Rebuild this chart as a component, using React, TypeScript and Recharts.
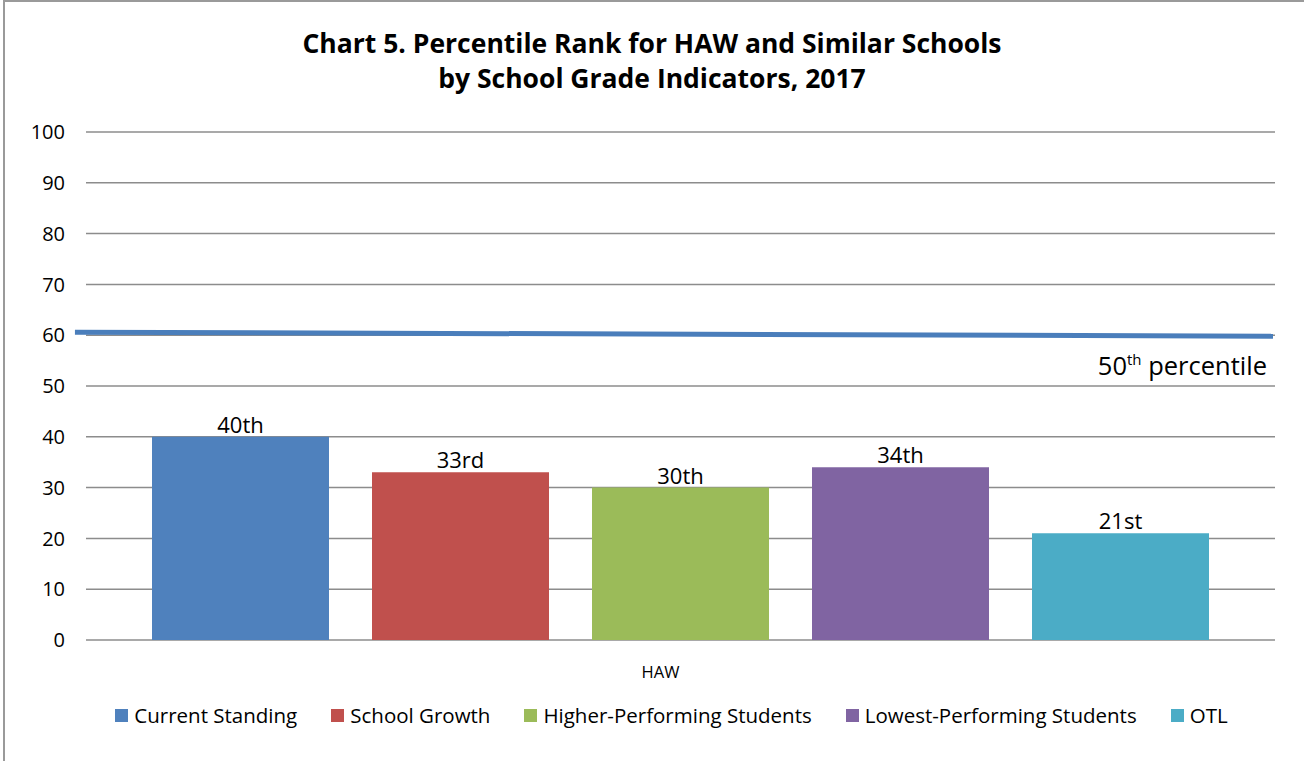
import React from 'react';
import {
  BarChart,
  Bar,
  XAxis,
  YAxis,
  CartesianGrid,
  Legend,
  LabelList,
  ReferenceLine
} from 'recharts';

// Series shown as bars for the single HAW category
const CATEGORIES = ['HAW'];
const SERIES_NAMES = [
  'Current Standing',
  'School Growth',
  'Higher-Performing Students',
  'Lowest-Performing Students',
  'OTL'
];
const SERIES_VALUES = [40, 33, 30, 34, 21];
const SERIES_LABELS = ['40th', '33rd', '30th', '34th', '21st'];
const SERIES_COLORS = ['#4F81BD', '#C0504D', '#9BBB59', '#8064A2', '#4BACC6'];
const Y_TICKS = [0, 10, 20, 30, 40, 50, 60, 70, 80, 90, 100];

// hand-drawn "50th percentile" marker: start and end points (x as share of plot width, y in chart units)
const MARKER_X = [-0.0093, 0.9983];
const MARKER_Y = [60.6, 59.8];

const FONT = '"Open Sans", sans-serif';

const data = CATEGORIES.map((name) => {
  const row: Record<string, any> = { name, pos: 0.5 };
  SERIES_NAMES.forEach((s, i) => {
    row[s] = SERIES_VALUES[i];
  });
  return row;
});

const MarkerLabel = (props: any) => {
  const { viewBox } = props;
  if (!viewBox) return null;
  const x = viewBox.x + viewBox.width - 6;
  const y = viewBox.y + viewBox.height + 39;
  return (
    <text x={x} y={y} textAnchor="end" fontSize={25.5} fill="#000" fontFamily={FONT}>
      50<tspan dy={-10} fontSize={15}>th</tspan>
      <tspan dy={10}> percentile</tspan>
    </text>
  );
};

const LegendContent = () => (
  <div
    style={{
      height: 50,
      display: 'flex',
      alignItems: 'center',
      justifyContent: 'center',
      gap: 34,
      paddingLeft: 62,
      fontFamily: FONT,
      fontSize: 20.5,
      color: '#000'
    }}
  >
    {SERIES_NAMES.map((s, i) => (
      <span key={s} style={{ display: 'inline-flex', alignItems: 'center' }}>
        <span style={{ width: 13, height: 13, background: SERIES_COLORS[i], marginRight: 6 }} />
        {s}
      </span>
    ))}
  </div>
);

export default function App() {
  return (
    <div style={{ position: 'absolute', left: 0, top: 0, width: 1304, height: 761, overflow: 'hidden', background: '#fff' }}>
      <div
        style={{
          position: 'absolute',
          top: 26,
          left: 0,
          width: 1304,
          textAlign: 'center',
          fontFamily: FONT,
          fontWeight: 'bold',
          fontSize: 26.5,
          lineHeight: '35px',
          color: '#000'
        }}
      >
        Chart 5. Percentile Rank for HAW and Similar Schools
        <br />
        by School Grade Indicators, 2017
      </div>
      <BarChart
        width={1304}
        height={761}
        data={data}
        margin={{ top: 132, right: 29, left: 6, bottom: 21 }}
        barCategoryGap={66}
        barGap={43}
        style={{ position: 'absolute', left: 0, top: 0 }}
      >
        <CartesianGrid vertical={false} stroke="#8C8C8C" strokeWidth={1.5} />
        <XAxis
          dataKey="name"
          height={50}
          axisLine={false}
          tickLine={false}
          tick={{ fontSize: 16.5, fill: '#000', fontFamily: FONT }}
          dy={18}
          dx={-20}
        />
        <XAxis
          xAxisId={1}
          dataKey="pos"
          type="number"
          scale="linear"
          domain={[0, 1]}
          allowDataOverflow
          hide
        />
        <YAxis
          domain={[0, 100]}
          ticks={Y_TICKS}
          interval={0}
          width={80}
          axisLine={false}
          tickLine={false}
          tickMargin={15}
          tick={{ fontSize: 20, fill: '#000', fontFamily: FONT }}
        />
        <Legend verticalAlign="bottom" height={50} content={<LegendContent />} />
        {SERIES_NAMES.map((s, i) => (
          <Bar key={s} dataKey={s} fill={SERIES_COLORS[i]} isAnimationActive={false}>
            <LabelList
              dataKey={s}
              position="top"
              offset={4}
              formatter={() => SERIES_LABELS[i]}
              style={{ fontSize: 22, fill: '#000', fontFamily: FONT }}
            />
          </Bar>
        ))}
        <ReferenceLine
          xAxisId={1}
          segment={[
            { x: MARKER_X[0], y: MARKER_Y[0] },
            { x: MARKER_X[1], y: MARKER_Y[1] }
          ]}
          stroke="#4A7EBB"
          strokeWidth={5}
          ifOverflow="visible"
          label={<MarkerLabel />}
        />
      </BarChart>
      <div
        style={{
          position: 'absolute',
          left: 3,
          top: 0,
          width: 1320,
          height: 780,
          borderLeft: '2px solid #9a9a9a',
          borderTop: '2px solid #9a9a9a',
          pointerEvents: 'none'
        }}
      />
    </div>
  );
}
